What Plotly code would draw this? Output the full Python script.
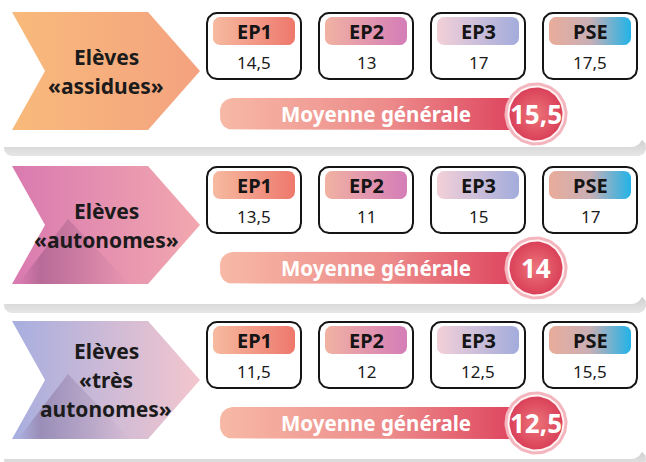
import math
import plotly.graph_objects as go

# ---------------- data ----------------
groups = ["Elèves<br>«assidues»", "Elèves<br>«autonomes»", "Elèves<br>«très<br>autonomes»"]
subjects = ["EP1", "EP2", "EP3", "PSE"]
ep1 = [14.5, 13.5, 11.5]
ep2 = [13, 11, 12]
ep3 = [17, 15, 12.5]
pse = [17.5, 17, 15.5]
moyenne = [15.5, 14, 12.5]
moyenne_label = "Moyenne générale"

# ---------------- styles ----------------
FONT = "Noto Sans"
chevron_colors = [["#F8BA7B", "#F4A27F"], ["#D97AB0", "#F2A8AF"], ["#A7AEDF", "#F3C6CE"]]
header_colors = {
    "EP1": [[0, "#F6BAA0"], [1, "#EE786C"]],
    "EP2": [[0, "#F1B2A2"], [1, "#D47DB8"]],
    "EP3": [[0, "#F3D0D8"], [1, "#A3ACDC"]],
    "PSE": [[0, "#E9AC9A"], [0.5, "#C9AFB6"], [1, "#22B3E7"]],
}
bar_colors = [[0, "#F7B9A6"], [0.55, "#EC8A8A"], [1, "#DC3B58"]]

values = {"EP1": ep1, "EP2": ep2, "EP3": ep3, "PSE": pse}
dys = [0, 154, 309]


def fmt(v):
    return f"{v:g}".replace(".", ",")


def rrect(x0, y0, x1, y1, r, n=10):
    xs, ys = [], []
    for cx, cy, a0 in [(x1 - r, y0 + r, -math.pi / 2), (x1 - r, y1 - r, 0),
                       (x0 + r, y1 - r, math.pi / 2), (x0 + r, y0 + r, math.pi)]:
        for k in range(n + 1):
            a = a0 + (math.pi / 2) * k / n
            xs.append(cx + r * math.cos(a))
            ys.append(cy + r * math.sin(a))
    xs.append(xs[0]); ys.append(ys[0])
    return xs, ys


def circle(cx, cy, r, n=72):
    xs = [cx + r * math.cos(2 * math.pi * k / n) for k in range(n + 1)]
    ys = [cy + r * math.sin(2 * math.pi * k / n) for k in range(n + 1)]
    return xs, ys


fig = go.Figure()


def poly(xs, ys, fillcolor=None, grad=None, line_color=None, line_width=0):
    kw = dict(x=xs, y=ys, mode="lines", fill="toself", hoverinfo="skip", showlegend=False,
              line=dict(color=line_color or "rgba(0,0,0,0)", width=line_width))
    if grad is not None:
        kw["fillgradient"] = grad
    else:
        kw["fillcolor"] = fillcolor
    fig.add_trace(go.Scatter(**kw))


annotations = []


def text(x, y, s, size, color, bold=True):
    annotations.append(dict(x=x, y=y, xref="x", yref="y", text=s, showarrow=False,
                            font=dict(family=FONT, size=size, color=color,
                                      weight="bold" if bold else "normal"),
                            xanchor="center", yanchor="middle"))


# panels
panel_bottoms = [147, 304, 459]
panel_tops = [-20, 156, 316]
for top, bot in zip(panel_tops, panel_bottoms):
    xs, ys = rrect(4, bot - 8, 646, bot + 9, 8)
    poly(xs, ys, grad=dict(type="vertical", colorscale=[[0, "#E6E6E6"], [1, "#CFCFCF"]]))
    xs, ys = rrect(-20, top, 643, bot, 12)
    poly(xs, ys, fillcolor="#FFFFFF")

for g, (label, dy) in enumerate(zip(groups, dys)):
    # chevron
    y0, y1 = 12 + dy, 130 + dy
    ym = (y0 + y1) / 2
    xs = [12, 148, 200, 148, 12, 45, 12]
    ys = [y0, y0, ym, y1, y1, ym, y0]
    poly(xs, ys, grad=dict(type="horizontal",
                           colorscale=[[0, chevron_colors[g][0]], [1, chevron_colors[g][1]]]))
    if g > 0:
        xs = [18, 68, 130, 18]
        ys = [y1, ym - 6, y1, y1]
        poly(xs, ys, grad=dict(type="horizontal",
                               colorscale=[[0, "rgba(90,50,90,0.0)"], [0.2, "rgba(90,50,90,0.28)"],
                                           [1, "rgba(90,50,90,0.0)"]]))
    lines = label.split("<br>")
    n = len(lines)
    for i, ln in enumerate(lines):
        text(106, ym + (i - (n - 1) / 2) * 29, ln, 21, "#1B1B1B")

    # subject boxes
    for i, s in enumerate(subjects):
        bx0 = 207 + i * 112
        bx1 = bx0 + 94
        by0, by1 = 13 + dy, 79 + dy
        xs, ys = rrect(bx0, by0, bx1, by1, 10)
        poly(xs, ys, fillcolor="#FFFFFF", line_color="#151515", line_width=2)
        xs, ys = rrect(bx0 + 6, by0 + 4, bx1 - 6, by0 + 32, 7)
        poly(xs, ys, grad=dict(type="horizontal", colorscale=header_colors[s]))
        text((bx0 + bx1) / 2, by0 + 18, s, 20, "#151515")
        text((bx0 + bx1) / 2, by0 + 49, fmt(values[s][g]), 17, "#1B1B1B", bold=False)

    # moyenne bar
    cy = 114 + dy
    xs, ys = rrect(220, cy - 16, 532, cy + 16, 13)
    poly(xs, ys, grad=dict(type="horizontal", colorscale=bar_colors))
    text(376, cy, moyenne_label, 20.5, "#FFFFFF")

    # circle
    cx = 536
    xs, ys = circle(cx, cy, 31.5)
    poly(xs, ys, fillcolor="#F3B6BE")
    xs, ys = circle(cx, cy, 28.5)
    poly(xs, ys, fillcolor="#FFF3F3")
    xs, ys = circle(cx, cy, 26.5)
    poly(xs, ys, grad=dict(type="radial", colorscale=[[0, "#EC7479"], [1, "#DA4159"]]))
    text(cx, cy, fmt(moyenne[g]), 26, "#FFFFFF")

fig.update_layout(
    width=646, height=462,
    margin=dict(l=0, r=0, t=0, b=0),
    paper_bgcolor="#FFFFFF", plot_bgcolor="#FFFFFF",
    xaxis=dict(range=[0, 646], visible=False, fixedrange=True),
    yaxis=dict(range=[462, 0], visible=False, fixedrange=True),
    annotations=annotations,
    showlegend=False,
    hovermode=False,
)

fig.write_html("out.html", config={"displayModeBar": False},
               post_script="document.body.style.margin='0';")
